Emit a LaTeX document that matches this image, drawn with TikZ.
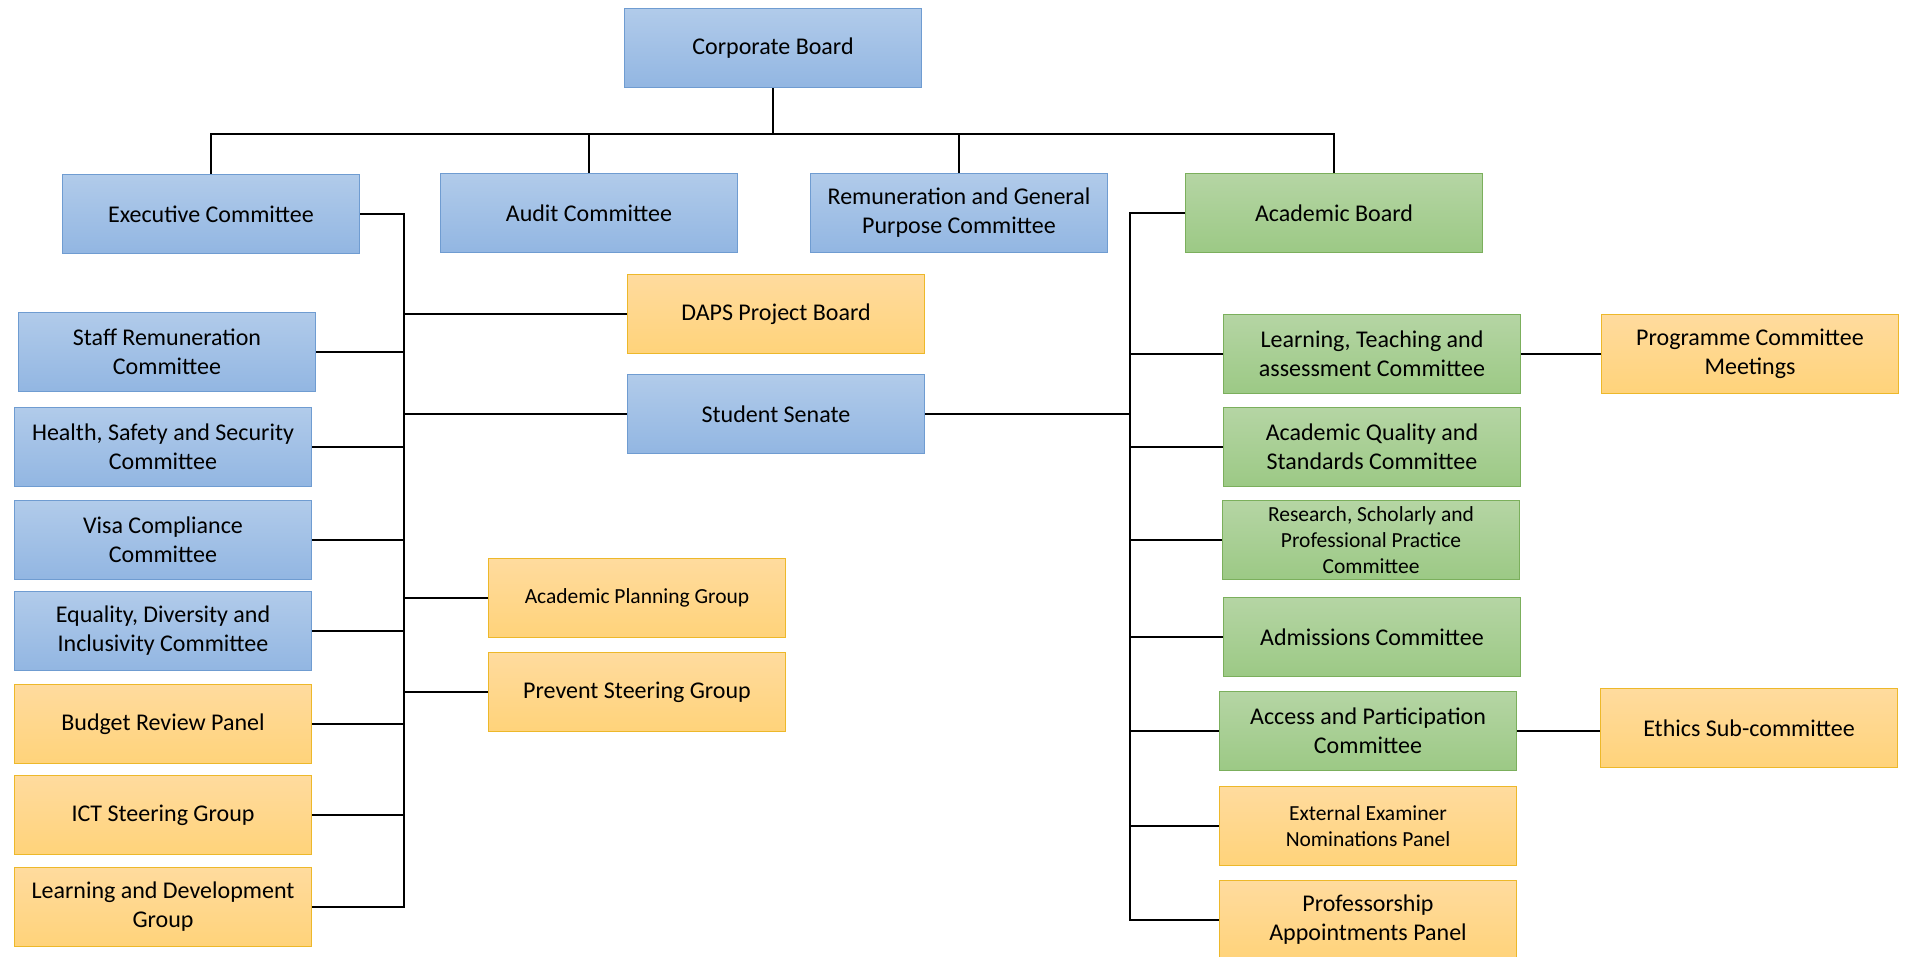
\documentclass[tikz,border=0pt]{standalone}
\usepackage{fontspec}
\setmainfont{Carlito}
\usetikzlibrary{positioning, calc}

\definecolor{blueTop}{HTML}{B1CBEA}
\definecolor{blueBot}{HTML}{92B6E2}
\definecolor{blueLine}{HTML}{6F9CD1}
\definecolor{greenTop}{HTML}{B5D5A4}
\definecolor{greenBot}{HTML}{9CC985}
\definecolor{greenLine}{HTML}{7BAF5C}
\definecolor{orangeTop}{HTML}{FFDB9E}
\definecolor{orangeBot}{HTML}{FFD37A}
\definecolor{orangeLine}{HTML}{EDB82A}

\begin{document}
\begin{tikzpicture}[
    x=1pt, y=-1pt,
    every node/.style={font=\fontsize{24}{29}\selectfont},
    box/.style={
        rectangle,
        minimum width=297pt,
        minimum height=79pt,
        inner sep=2pt,
        line width=1.2pt,
        align=center
    },
    bluebox/.style={box, top color=blueTop, bottom color=blueBot, draw=blueLine},
    greenbox/.style={box, top color=greenTop, bottom color=greenBot, draw=greenLine},
    orangebox/.style={box, top color=orangeTop, bottom color=orangeBot, draw=orangeLine},
    small/.style={font=\fontsize{21.5}{26}\selectfont},
    link/.style={line width=1.6pt, black}
]

\useasboundingbox (0,0) rectangle (1906,957);

% Top
\node[bluebox] (corp) at (773,48) {Corporate Board};
\node[bluebox] (exec) at (211,214) {Executive Committee};
\node[bluebox] (audit) at (589,213) {Audit Committee};
\node[bluebox] (remun) at (959,213) {Remuneration and General\\Purpose Committee};
\node[greenbox] (acad) at (1334,213) {Academic Board};

% Middle
\node[orangebox] (daps) at (776,314) {DAPS Project Board};
\node[bluebox] (senate) at (776,414) {Student Senate};
\node[orangebox, small] (apg) at (637,598) {Academic Planning Group};
\node[orangebox] (prevent) at (637,692) {Prevent Steering Group};

% Executive side
\node[bluebox] (staff) at (167,352) {Staff Remuneration\\Committee};
\node[bluebox] (health) at (163,447) {Health, Safety and Security\\Committee};
\node[bluebox] (visa) at (163,540) {Visa Compliance\\Committee};
\node[bluebox] (equal) at (163,631) {Equality, Diversity and\\Inclusivity Committee};
\node[orangebox] (budget) at (163,724) {Budget Review Panel};
\node[orangebox] (ict) at (163,815) {ICT Steering Group};
\node[orangebox] (learndev) at (163,907) {Learning and Development\\Group};

% Academic side
\node[greenbox] (ltac) at (1372,354) {Learning, Teaching and\\assessment Committee};
\node[greenbox] (aqs) at (1372,447) {Academic Quality and\\Standards Committee};
\node[greenbox, small] (rspp) at (1371,540) {Research, Scholarly and\\Professional Practice\\Committee};
\node[greenbox] (adm) at (1372,637) {Admissions Committee};
\node[greenbox] (access) at (1368,731) {Access and Participation\\Committee};
\node[orangebox, small] (extexam) at (1368,826) {External Examiner\\Nominations Panel};
\node[orangebox] (prof) at (1368,920) {Professorship\\Appointments Panel};
\node[orangebox] (pcm) at (1750,354) {Programme Committee\\Meetings};
\node[orangebox] (ethics) at (1749,728) {Ethics Sub-committee};

% Lines
\coordinate (bus) at (773,134);
\coordinate (espine) at (404,907);
\coordinate (aspine) at (1130,920);

\draw[link] (corp.south) -- (bus);
\draw[link] (exec.north) |- (bus) -| (acad.north);
\foreach \n in {audit, remun}
    \draw[link] (\n.north) -- (\n.north |- bus);

\draw[link] (exec.east) -| (espine) -- (learndev.east);
\foreach \n in {staff, health, visa, equal, budget, ict}
    \draw[link] (\n.east) -- (\n.east -| espine);
\foreach \n in {daps, senate, apg, prevent}
    \draw[link] (\n.west) -- (\n.west -| espine);

\draw[link] (acad.west) -| (aspine) -- (prof.west);
\foreach \n in {ltac, aqs, rspp, adm, access, extexam}
    \draw[link] (\n.west) -- (\n.west -| aspine);
\draw[link] (senate.east) -- (senate.east -| aspine);
\draw[link] (ltac.east) -- (pcm.west);
\draw[link] (access.east) -- (access.east -| ethics.west);

\end{tikzpicture}
\end{document}
